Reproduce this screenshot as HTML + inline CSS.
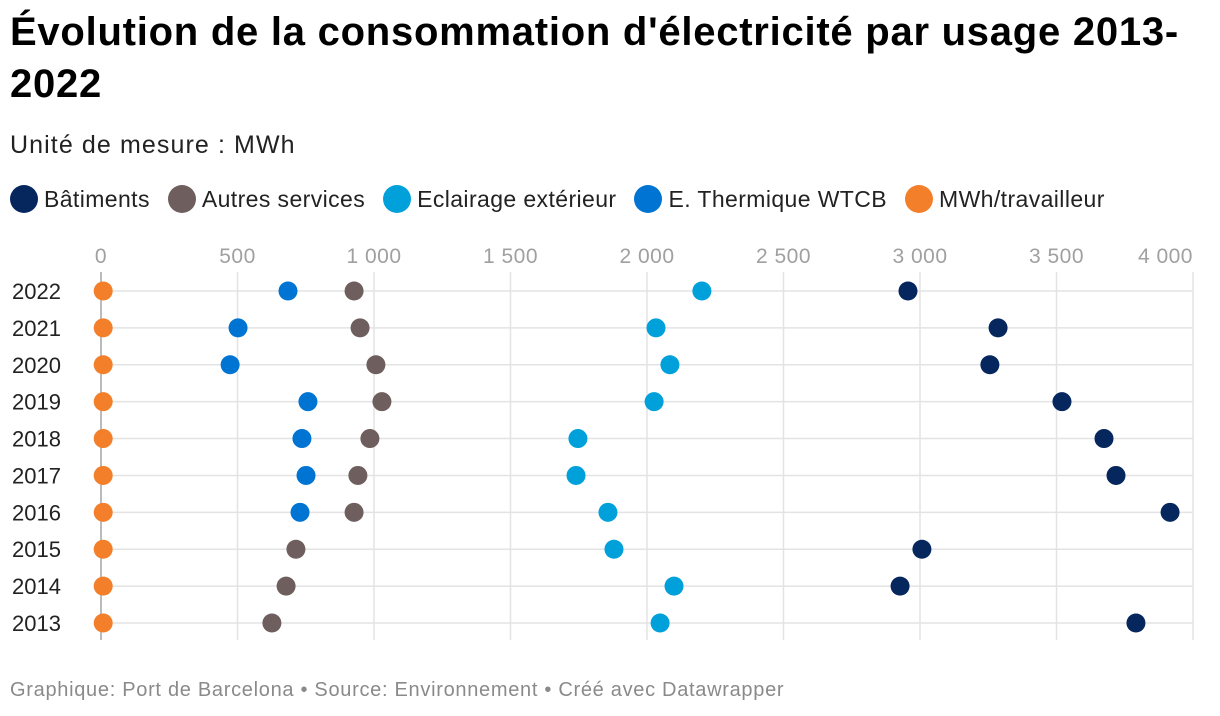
<!DOCTYPE html>
<html><head><meta charset="utf-8"><style>
body{margin:0;width:1220px;height:716px;background:#fff;font-family:"Liberation Sans",Arial,sans-serif;overflow:hidden;position:relative}
h1{position:absolute;left:10px;top:6px;margin:0;font-size:40px;line-height:52px;font-weight:bold;color:#000;letter-spacing:0.75px;white-space:nowrap}
.sub{position:absolute;left:10px;top:131px;font-size:25px;color:#222;letter-spacing:1.1px}
.legend{position:absolute;left:10px;top:185px;font-size:23px;color:#222;display:flex;letter-spacing:0.4px;white-space:nowrap}
.li{display:flex;align-items:center;margin-right:18px}
.dot{width:28px;height:28px;border-radius:50%;margin-right:6px}
.foot{position:absolute;left:10px;top:679px;font-size:20px;color:#8a8a8a;letter-spacing:0.7px;white-space:nowrap}
svg{position:absolute;left:0;top:0}
</style></head><body>
<h1>Évolution de la consommation d'électricité par usage 2013-<br>2022</h1>
<div class="sub">Unité de mesure : MWh</div>
<div class="legend">
<div class="li"><div class="dot" style="background:#06275e"></div>Bâtiments</div>
<div class="li"><div class="dot" style="background:#6e5f5e"></div>Autres services</div>
<div class="li"><div class="dot" style="background:#00a1db"></div>Eclairage extérieur</div>
<div class="li"><div class="dot" style="background:#0074d2"></div>E. Thermique WTCB</div>
<div class="li"><div class="dot" style="background:#f47f2a"></div>MWh/travailleur</div>
</div>
<svg id="chart" width="1220" height="716"></svg>
<div class="foot">Graphique: Port de Barcelona • Source: Environnement • Créé avec Datawrapper</div>
<script>
const years=["2022","2021","2020","2019","2018","2017","2016","2015","2014","2013"];
const ticks=[0,500,1000,1500,2000,2500,3000,3500,4000];
const tickLabels=["0","500","1 000","1 500","2 000","2 500","3 000","3 500","4 000"];
const batiments=[2956,3286,3256,3520,3674,3718,3916,3007,2927,3791];
const autres=[927,949,1007,1029,985,941,927,714,678,626];
const eclairage=[2201,2033,2084,2026,1747,1740,1857,1879,2099,2048];
const thermique=[685,502,473,758,736,751,729,null,null,null];
const travailleur=[8,8,8,8,8,8,8,8,8,8];
const NS="http://www.w3.org/2000/svg";
const svg=document.getElementById('chart');
const x=v=>101+v*(1193-101)/4000;
const y=i=>291+i*(623-291)/9;
function mk(t,a){const e=document.createElementNS(NS,t);for(const k in a)e.setAttribute(k,a[k]);svg.appendChild(e);return e;}
ticks.forEach((t,i)=>{
 const l=mk('line',{x1:x(t),x2:x(t),y1:272,y2:640,stroke:t===0?'#bbb':'#e3e3e3','stroke-width':t===0?2:1.5});
 
 
 const last=i===ticks.length-1;
 const tx=mk('text',{x:x(t),y:263,'text-anchor':last?'end':'middle','font-size':21,fill:'#a0a0a0','font-family':'Liberation Sans, sans-serif','letter-spacing':'0.5'});
 tx.textContent=tickLabels[i];
 
 
});
years.forEach((yr,i)=>{
 const l=mk('line',{x1:101,x2:1193,y1:y(i),y2:y(i),stroke:'#e3e3e3','stroke-width':1.5});
 
 
 const t=mk('text',{x:12,y:y(i)+8,'font-size':22,fill:'#222','font-family':'Liberation Sans, sans-serif'});
 t.textContent=yr;
 
 
});
const series=[[travailleur,'#f47f2a','travailleur'],[thermique,'#0074d2','thermique'],[autres,'#6e5f5e','autres'],[eclairage,'#00a1db','eclairage'],[batiments,'#06275e','batiments']];
series.forEach(([arr,c,n])=>{arr.forEach((v,i)=>{
 if(v==null)return;
 const d=mk('circle',{cx:x(v),cy:y(i),r:9.5,fill:c});
 
 
});});
</script>
</body></html>
